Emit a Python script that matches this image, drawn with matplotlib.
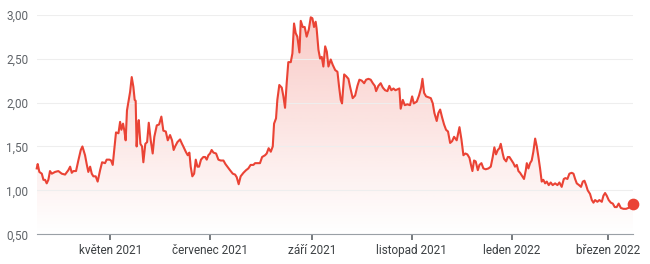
import matplotlib
matplotlib.use("Agg")
import matplotlib.pyplot as plt
import matplotlib.dates as mdates
from matplotlib.ticker import FuncFormatter
import numpy as np
import pandas as pd

plt.rcParams['font.family'] = ['Roboto', 'DejaVu Sans']

start = pd.Timestamp('2021-03-17')

# days since start, price
days = [0.0, 0.6, 1.6, 3.1, 4.1, 5.1, 6.1, 7.1, 8.1, 9.2, 11.2, 13.2, 15.3, 17.3, 19.3, 20.4,
        21.4, 22.4, 24.0, 25.4, 26.9, 27.9, 29.5, 30.5, 31.5, 32.6, 33.6, 34.6, 36.0, 37.2,
        38.7, 39.9, 41.7, 42.7, 44.4, 45.4, 46.4, 47.4, 48.4, 49.9, 50.9, 51.7, 52.7, 53.5,
        54.3, 55.1, 56.2, 57.0, 58.0, 59.0, 59.8, 60.4, 61.0, 61.7, 62.3, 63.3, 64.3, 65.1,
        66.3, 67.4, 68.4, 69.6, 70.8, 71.8, 73.3, 74.7, 76.1, 77.3, 78.8, 80.0, 81.4, 82.6,
        83.6, 84.5, 85.9, 87.5, 88.7, 89.5, 91.0, 92.2, 93.2, 94.0, 95.0, 96.1, 97.1, 98.1,
        99.1, 100.3, 101.7, 102.8, 103.8, 104.8, 105.8, 106.8, 107.9, 109.5, 110.9, 112.3,
        114.0, 115.2, 116.4, 118.0, 119.7, 121.1, 122.1, 123.3, 124.5, 126.2, 127.8, 129.2,
        130.6, 132.3, 133.3, 134.7, 136.3, 137.6, 139.4, 140.4, 141.6, 142.9, 144.1, 144.9,
        146.1, 146.9, 148.1, 149.6, 150.6, 151.6, 152.6, 153.6, 155.1, 156.1, 157.1, 158.1,
        159.1, 160.4, 161.2, 162.4, 163.6, 164.8, 166.1, 167.3, 168.3, 169.3, 170.3, 170.9,
        172.0,
        173.0, 174.0, 175.0, 176.1, 177.1, 178.1, 179.5, 180.7, 182.2, 183.6, 184.6, 185.6,
        186.4, 187.7, 188.9, 190.3, 191.3, 192.9, 194.4, 195.8, 197.0, 198.4, 199.9, 201.1,
        202.5, 203.9, 205.2, 206.4, 207.2, 208.6, 210.0, 211.3, 212.7, 214.1, 215.3, 216.5,
        217.8, 219.0, 220.2, 221.4, 222.2, 223.5, 224.7, 226.3, 227.9, 229.2, 230.2, 232.0,
        233.4, 234.7, 235.5, 236.5, 237.7, 239.1, 240.6, 241.8, 242.8, 244.2, 245.2, 246.3,
        247.5, 248.7, 249.9, 251.1, 252.4, 253.6, 254.8, 256.4, 258.1, 259.3, 260.5, 261.7,
        262.9, 264.2, 265.0, 266.0, 267.0, 268.0, 269.3, 270.3, 271.5, 272.7, 274.1, 275.8,
        277.2, 278.4, 279.4, 280.4, 281.5, 282.5, 283.3, 284.5, 285.3, 286.6, 287.6, 288.6,
        289.6, 291.0, 292.0, 293.1, 294.1, 295.1, 296.1, 297.5, 298.6, 299.2, 300.2, 301.2,
        302.2, 303.2, 304.3, 305.3, 306.3, 307.3, 308.3, 309.3, 310.4, 311.4, 312.6, 313.8,
        315.0, 316.5, 317.9, 319.1, 320.5, 321.8, 322.8, 324.0, 325.2, 326.6, 327.7, 328.7,
        329.7, 331.1, 332.3, 333.4, 334.4, 335.4, 336.4, 337.8, 338.9, 339.9, 340.9, 342.3,
        343.5, 345.0, 346.0, 347.0, 348.0, 349.2, 350.5, 351.7, 352.9, 354.1, 355.3, 356.6,
        358.2, 359.8, 361.2, 362.7, 364.3]
price = [1.25, 1.30, 1.21, 1.19, 1.12, 1.12, 1.08, 1.12, 1.22, 1.19, 1.21, 1.22, 1.19, 1.18, 1.23, 1.27,
         1.20, 1.22, 1.22, 1.34, 1.46, 1.50, 1.40, 1.30, 1.21, 1.27, 1.19, 1.16, 1.16, 1.10,
         1.23, 1.32, 1.31, 1.35, 1.35, 1.34, 1.29, 1.48, 1.66, 1.65, 1.78, 1.69, 1.76, 1.68,
         1.57, 1.91, 2.03, 2.12, 2.29, 2.18, 2.03, 2.02, 1.50, 1.72, 1.80, 1.53, 1.50, 1.32,
         1.53, 1.55, 1.77, 1.57, 1.42, 1.61, 1.74, 1.75, 1.84, 1.68, 1.67, 1.57, 1.63, 1.57,
         1.46, 1.50, 1.55, 1.58, 1.53, 1.50, 1.44, 1.40, 1.43, 1.27, 1.16, 1.19, 1.35, 1.27,
         1.27, 1.35, 1.38, 1.38, 1.35, 1.40, 1.42, 1.46, 1.43, 1.42, 1.35, 1.34,
         1.34, 1.30, 1.27, 1.23, 1.19, 1.18, 1.15, 1.07, 1.16, 1.20, 1.23, 1.25,
         1.29, 1.29, 1.31, 1.31, 1.31, 1.38, 1.40, 1.42, 1.48, 1.44, 1.50, 1.76,
         1.82, 2.03, 2.20, 2.17, 2.07, 1.94, 2.22, 2.46, 2.46, 2.56, 2.90, 2.79,
         2.75, 2.57, 2.93, 2.86, 2.86, 2.75, 2.83, 2.97, 2.96, 2.86, 2.92, 2.84,
         2.60,
         2.50, 2.52, 2.41, 2.64, 2.58, 2.41, 2.49, 2.43, 2.37, 2.35, 2.18, 2.03,
         1.99, 2.32, 2.30, 2.27, 2.18, 2.05, 2.08, 2.19, 2.26, 2.25, 2.22, 2.26,
         2.27, 2.26, 2.22, 2.19, 2.13, 2.19, 2.22, 2.17, 2.14, 2.13, 2.19, 2.14,
         2.16, 2.14, 2.15, 2.16, 1.93, 2.03, 1.97, 1.98, 1.97, 2.07, 1.99, 2.01,
         2.08, 2.17, 2.27, 2.11, 2.07, 2.06, 2.05, 1.99, 1.88, 1.79, 1.88, 1.92,
         1.83, 1.75, 1.69, 1.67, 1.54, 1.56, 1.61, 1.57, 1.72, 1.58, 1.40, 1.42,
         1.41, 1.37, 1.30, 1.22, 1.34, 1.33, 1.23, 1.29, 1.31, 1.25, 1.24, 1.25,
         1.27, 1.38, 1.49, 1.41, 1.46, 1.48, 1.53, 1.42, 1.36, 1.33, 1.38, 1.38,
         1.35, 1.31, 1.27, 1.29, 1.22, 1.20, 1.17, 1.13, 1.23, 1.31, 1.25, 1.31,
         1.34, 1.44, 1.59, 1.50, 1.38, 1.25, 1.10, 1.12, 1.08, 1.10, 1.06, 1.09,
         1.06, 1.08, 1.06, 1.09, 1.04, 1.13, 1.14, 1.13, 1.19, 1.20, 1.19, 1.13,
         1.08, 1.06, 1.04, 1.10, 1.11, 1.06, 1.00, 0.96, 0.89, 0.86, 0.89, 0.87,
         0.89, 0.87, 0.94, 0.97, 0.94, 0.89, 0.86, 0.85, 0.81, 0.81, 0.85, 0.80,
         0.79, 0.79, 0.80, 0.82, 0.84]

tick_dates = ['2021-05-01', '2021-07-01', '2021-09-01', '2021-11-01', '2022-01-01', '2022-03-01']
tick_labels = ['květen 2021', 'červenec 2021', 'září 2021', 'listopad 2021', 'leden 2022', 'březen 2022']
y_ticks = [0.5, 1.0, 1.5, 2.0, 2.5, 3.0]

red = '#ea4335'
grey = '#5f6368'

dates = start + pd.to_timedelta(days, unit='D')
x = mdates.date2num(dates.to_pydatetime())

fig = plt.figure(figsize=(6.5, 2.64), dpi=100)
ax = fig.add_axes([0.0565, 0.1125, 0.918, 0.8318])

ymin, ymax = 0.5, 3.0
ax.set_xlim(x[0], x[-1])
ax.set_ylim(ymin, ymax)

# gradient fill under the line
grad = np.zeros((256, 1, 4))
grad[:, :, :3] = matplotlib.colors.to_rgb(red)
grad[:, 0, 3] = np.linspace(0.28, 0.0, 256)
im = ax.imshow(grad, aspect='auto', extent=[x[0], x[-1], ymin, max(price)],
               origin='upper', zorder=1)
poly = ax.fill_between(x, price, ymin, color='none', lw=0)
path = poly.get_paths()[0]
im.set_clip_path(path, transform=ax.transData)

ax.plot(x, price, color=red, lw=1.5, zorder=3, clip_on=False, solid_joinstyle='round')
ax.scatter([x[-1]], [price[-1]], s=55, color=red, zorder=4, clip_on=False)

ax.set_yticks(y_ticks)
ax.yaxis.set_major_formatter(FuncFormatter(lambda v, p: f'{v:.2f}'.replace('.', ',')))
ax.set_xticks(mdates.date2num(pd.to_datetime(tick_dates).to_pydatetime()))
ax.set_xticklabels(tick_labels)

ax.grid(axis='y', color='#eeeeee', lw=0.8, zorder=0)
for s in ['top', 'right', 'left']:
    ax.spines[s].set_visible(False)
ax.spines['bottom'].set_color('#9aa0a6')
ax.spines['bottom'].set_linewidth(0.8)

ax.tick_params(axis='y', length=0, pad=6, labelsize=8.5, labelcolor=grey)
ax.tick_params(axis='x', length=4, width=1.2, color='#5f6368', pad=3,
               labelsize=8.5, labelcolor='#3c4043')

fig.savefig('out.png', dpi=100)
